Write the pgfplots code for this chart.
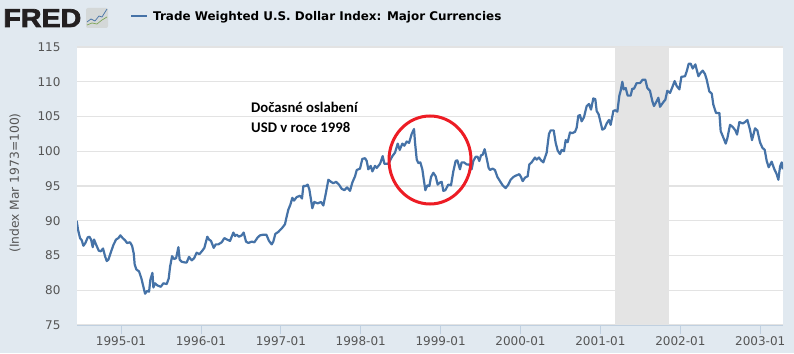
\documentclass[border=0pt]{standalone}
\usepackage{pgfplots}
\pgfplotsset{compat=1.18}
\usepackage{fontspec}
\setmainfont{DejaVu Sans}
\newfontfamily\carlito{Carlito}
\newfontfamily\logofont{Liberation Sans}
\definecolor{bgc}{HTML}{E1E9F0}
\definecolor{linec}{HTML}{4572A7}
\definecolor{gridc}{HTML}{E3E3E3}
\definecolor{shadec}{HTML}{E4E4E4}
\definecolor{tickc}{HTML}{C0D0E0}
\definecolor{labc}{HTML}{555555}
\definecolor{circc}{HTML}{ED1C24}
\definecolor{logoc}{HTML}{231F20}
\definecolor{icong}{HTML}{D4D8D8}
\definecolor{icongreen}{HTML}{7FA65A}
\begin{document}
\begin{tikzpicture}[x=1pt,y=1pt]
\path[use as bounding box,fill=bgc] (-77,-28) rectangle (717,325);
\begin{axis}[
  scale only axis, width=706pt, height=278pt,
  xmin=1994.449, xmax=2003.285, ymin=75, ymax=115,
  axis background/.style={fill=white},
  axis x line*=bottom, axis y line*=left,
  y axis line style={draw=none},
  x axis line style={draw=tickc,line width=0.8pt},
  clip=true,
  xtick={1995,1996,1997,1998,1999,2000,2001,2002,2003},
  xticklabels={1995-01,1996-01,1997-01,1998-01,1999-01,2000-01,2001-01,2002-01,2003-01},
  ytick={75,80,85,90,95,100,105,110,115},
  ymajorgrids,
  grid style={draw=gridc,line width=1.2pt},
  tick style={draw=tickc,line width=0.8pt},
  major tick length=9pt,
  xtick align=outside,
  ytick style={draw=none},
  /pgf/number format/assume math mode=true,
  tick label style={font=\fontsize{12}{14}\selectfont,text=labc},
  yticklabel style={anchor=east,xshift=-13pt},
  xticklabel style={yshift=1pt},
]
\addplot[fill=shadec,draw=none] coordinates {(2001.183,75)(2001.183,115)(2001.859,115)(2001.859,75)} --cycle;
\addplot[color=linec,line width=2.2pt,line join=round,no markers] table {
1994.445 90.0
1994.462 88.7
1994.487 87.5
1994.508 87.2
1994.529 86.4
1994.554 86.8
1994.583 87.6
1994.604 87.7
1994.625 87.3
1994.646 86.2
1994.662 87.3
1994.687 86.6
1994.721 85.7
1994.746 85.6
1994.775 86.0
1994.800 84.9
1994.821 84.2
1994.842 84.4
1994.871 85.4
1994.904 86.5
1994.938 87.3
1994.967 87.5
1994.992 87.9
1995.021 87.5
1995.050 87.2
1995.075 86.8
1995.113 86.9
1995.138 86.4
1995.159 85.3
1995.171 83.7
1995.192 83.0
1995.226 82.7
1995.255 81.7
1995.280 80.5
1995.301 79.5
1995.326 79.9
1995.351 79.8
1995.367 81.5
1995.393 82.5
1995.405 80.4
1995.426 81.0
1995.455 80.7
1995.497 80.5
1995.530 81.0
1995.572 80.9
1995.597 81.7
1995.614 83.4
1995.639 84.9
1995.664 84.5
1995.689 84.6
1995.718 86.2
1995.734 84.4
1995.760 84.1
1995.801 84.0
1995.822 84.0
1995.851 84.8
1995.885 84.3
1995.914 84.6
1995.947 85.4
1995.981 85.2
1996.018 85.7
1996.043 86.1
1996.080 87.7
1996.101 87.3
1996.126 87.1
1996.160 86.1
1996.185 86.6
1996.218 86.6
1996.260 86.9
1996.293 87.5
1996.326 87.3
1996.364 87.1
1996.406 88.3
1996.427 87.8
1996.447 88.0
1996.477 87.7
1996.510 87.9
1996.535 88.3
1996.564 87.0
1996.594 86.8
1996.635 87.0
1996.669 86.9
1996.710 87.6
1996.740 87.9
1996.781 88.0
1996.819 88.0
1996.852 87.1
1996.886 86.6
1996.906 87.0
1996.931 88.1
1996.969 88.4
1997.019 89.0
1997.052 89.5
1997.069 90.4
1997.094 91.6
1997.119 92.3
1997.144 93.3
1997.165 92.9
1997.198 93.4
1997.240 93.6
1997.265 93.2
1997.282 95.0
1997.311 95.0
1997.336 95.2
1997.357 94.5
1997.378 93.0
1997.394 91.8
1997.419 92.7
1997.461 92.5
1997.503 92.7
1997.532 92.2
1997.561 93.8
1997.595 95.9
1997.628 95.6
1997.657 95.4
1997.691 95.6
1997.728 95.2
1997.762 94.6
1997.795 94.4
1997.829 94.8
1997.866 94.3
1997.895 95.5
1997.929 96.4
1997.950 97.3
1997.991 97.5
1998.020 98.9
1998.054 99.0
1998.075 98.6
1998.095 97.4
1998.125 97.9
1998.146 97.1
1998.179 97.9
1998.200 97.6
1998.242 98.2
1998.275 99.3
1998.296 98.2
1998.346 98.2
1998.396 99.3
1998.429 99.8
1998.463 101.1
1998.488 100.2
1998.521 101.1
1998.546 100.8
1998.575 101.4
1998.605 101.2
1998.638 102.5
1998.667 103.2
1998.680 101.2
1998.701 98.8
1998.721 98.3
1998.746 98.4
1998.771 97.4
1998.792 95.7
1998.809 94.4
1998.834 95.1
1998.859 95.0
1998.880 96.3
1998.909 96.9
1998.938 96.4
1998.963 95.2
1998.992 95.5
1999.013 95.6
1999.034 94.3
1999.059 94.4
1999.096 95.2
1999.130 95.1
1999.159 97.1
1999.188 98.6
1999.209 98.7
1999.242 97.4
1999.263 98.4
1999.292 98.4
1999.326 98.1
1999.359 98.1
1999.388 97.4
1999.409 98.6
1999.438 99.2
1999.463 99.2
1999.484 98.6
1999.505 99.4
1999.526 99.5
1999.551 100.3
1999.576 99.0
1999.601 97.6
1999.618 97.3
1999.651 97.5
1999.680 97.3
1999.710 96.3
1999.743 95.7
1999.776 95.1
1999.814 94.7
1999.847 95.2
1999.876 95.9
1999.910 96.3
1999.943 96.5
1999.985 96.7
2000.006 96.3
2000.027 95.7
2000.056 96.2
2000.089 96.4
2000.110 98.1
2000.139 98.4
2000.181 99.1
2000.202 98.8
2000.231 99.1
2000.256 98.7
2000.285 98.4
2000.327 99.8
2000.356 102.5
2000.377 103.0
2000.415 103.0
2000.440 101.2
2000.465 100.1
2000.494 99.6
2000.515 100.2
2000.544 100.0
2000.565 101.6
2000.590 101.3
2000.619 102.7
2000.648 102.6
2000.682 102.8
2000.703 103.4
2000.723 105.1
2000.744 105.2
2000.765 104.3
2000.794 104.9
2000.828 106.5
2000.857 106.8
2000.882 106.0
2000.911 107.6
2000.936 107.5
2000.953 105.8
2000.978 105.3
2001.003 104.1
2001.024 103.1
2001.053 103.3
2001.078 104.0
2001.107 104.5
2001.128 103.8
2001.162 105.8
2001.187 105.9
2001.212 105.7
2001.237 108.0
2001.253 108.7
2001.274 110.0
2001.291 108.9
2001.316 109.1
2001.341 108.0
2001.378 108.0
2001.399 109.0
2001.420 109.0
2001.453 109.8
2001.495 109.8
2001.529 110.3
2001.562 110.3
2001.587 109.1
2001.620 108.7
2001.650 107.2
2001.670 106.5
2001.695 107.0
2001.725 107.7
2001.746 106.4
2001.771 106.8
2001.796 107.2
2001.812 107.4
2001.837 108.7
2001.871 108.4
2001.896 109.1
2001.929 110.1
2001.954 109.4
2001.988 108.9
2002.013 110.7
2002.059 110.8
2002.080 111.5
2002.105 112.6
2002.130 112.6
2002.155 111.9
2002.188 112.5
2002.226 110.8
2002.255 111.3
2002.280 111.6
2002.309 111.1
2002.330 110.3
2002.363 108.6
2002.393 108.3
2002.413 106.7
2002.447 105.5
2002.489 105.5
2002.505 102.9
2002.530 102.2
2002.568 101.1
2002.589 101.9
2002.622 103.8
2002.655 103.5
2002.689 103.0
2002.710 102.4
2002.739 104.2
2002.781 104.0
2002.810 104.2
2002.839 104.5
2002.872 103.1
2002.897 101.6
2002.935 103.3
2002.964 103.0
2002.997 101.3
2003.027 100.5
2003.056 100.2
2003.081 98.6
2003.106 97.7
2003.143 98.5
2003.177 97.4
2003.206 96.7
2003.227 95.9
2003.248 97.8
2003.269 98.4
2003.281 97.4
};
\end{axis}
% annotation and circle (x=px-77, y=325-py)
\draw[draw=circc,line width=3pt] (353,165) ellipse (41 and 44);
\node[anchor=west,inner sep=0,font=\carlito\bfseries\fontsize{14.7}{16}\selectfont] at (174,218) {Dočasné oslabení};
\node[anchor=west,inner sep=0,font=\carlito\bfseries\fontsize{14.7}{16}\selectfont] at (174,198) {USD v roce 1998};
% y label
\node[rotate=90,text=labc,inner sep=0,font=\fontsize{12.3}{14}\selectfont] at (-62,142) {(Index Mar 1973=100)};
% legend
\draw[linec,line width=2pt] (54,309) -- (70,309);
\node[anchor=base west,inner sep=0,font=\bfseries\fontsize{11.95}{13}\selectfont] at (76,304) {Trade Weighted U.S. Dollar Index: Major Currencies};
% logo
\pgfsetlinewidth{0.7pt}
\node[anchor=base west,inner sep=0,text=logoc,xscale=1.1,font=\logofont\bfseries\fontsize{26}{28}\selectfont] at (-74,298) {\special{pdf:literal direct 2 Tr 0.7 w}FRED\special{pdf:literal direct 0 Tr}};
\fill[icong,rounded corners=2pt] (9,297) rectangle (31,317);
\draw[linec,line width=0.7pt] (10,303) -- (14,306) -- (18,304) -- (22,309) -- (25,308) -- (30,316);
\draw[icongreen,line width=0.7pt] (10,300) -- (15,302) -- (20,301) -- (25,305) -- (30,308);
\end{tikzpicture}
\end{document}
